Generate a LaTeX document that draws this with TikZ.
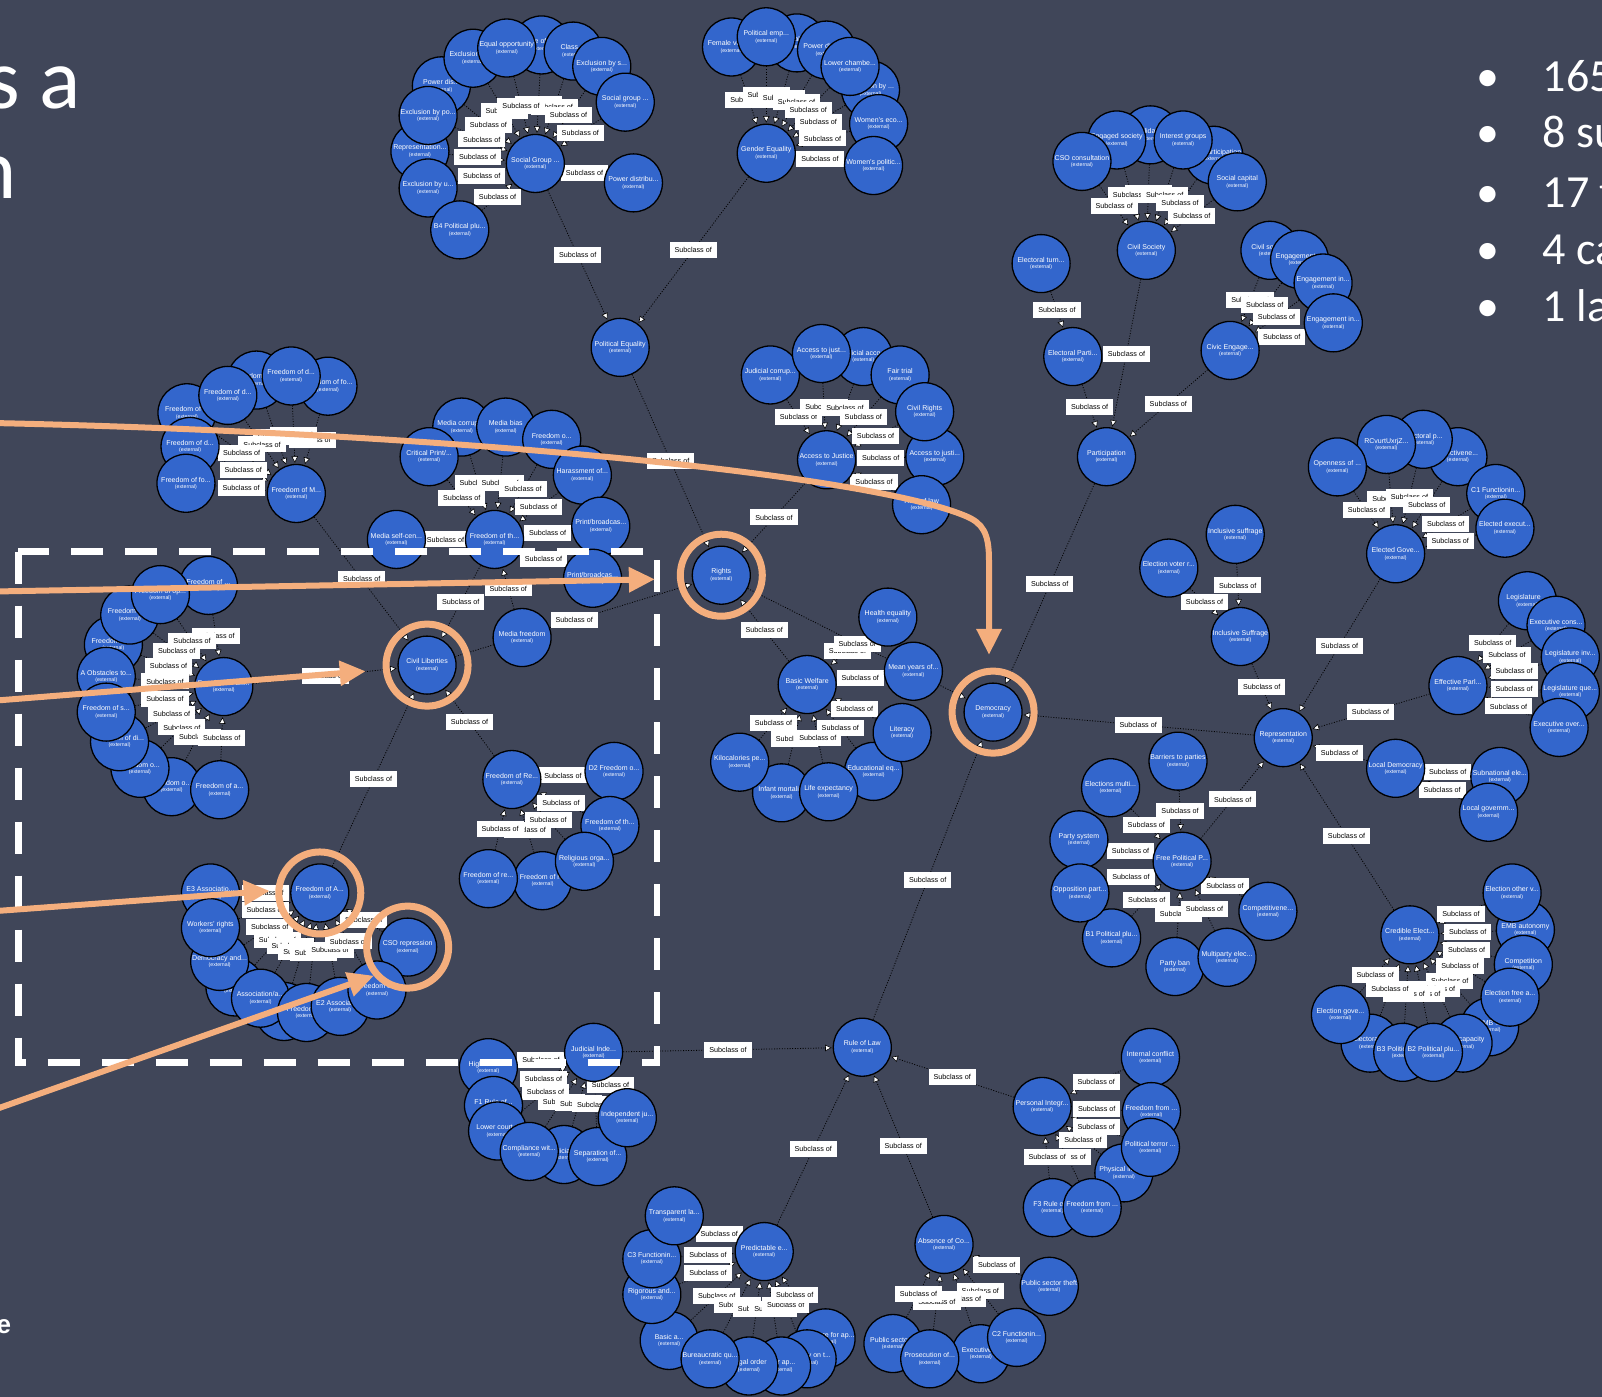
\documentclass[tikz,border=0pt]{standalone}
\usepackage{fontspec}
\setmainfont{Liberation Sans}
\newfontfamily\calfont{Carlito}
\usetikzlibrary{arrows.meta}
\definecolor{bgc}{RGB}{64,70,89}
\definecolor{entblue}{RGB}{51,102,204}
\definecolor{orng}{RGB}{244,174,125}
\pgfdeclarelayer{background}
\pgfdeclarelayer{edges}
\pgfdeclarelayer{labels}
\pgfdeclarelayer{top}
\pgfsetlayers{background,edges,labels,main,top}
\tikzset{
 ent/.style={circle,draw=black,line width=1.3pt,fill=entblue,minimum size=58pt,inner sep=0pt,text=white,align=center,font=\fontsize{7}{8}\selectfont},
 subedge/.style={draw=black,line width=0.8pt,dash pattern=on 1pt off 1.6pt,-{Triangle[length=6.5pt,width=6.5pt,fill=white,line width=0.6pt]},shorten >=1pt},
 sublab/.style={fill=white,text=black,font=\fontsize{7.2}{8}\selectfont,inner xsep=5pt,inner ysep=0pt,minimum height=16pt},
 ring/.style={draw=orng,line width=7pt},
 oarrow/.style={draw=orng,line width=6pt,-{Triangle[length=26pt,width=24pt]}},
 slidetext/.style={text=white,inner sep=0pt,font=\calfont\fontsize{46}{46}\selectfont},
}
\newcommand\Ent[4]{\node[ent] (#1) at (#2,#3) {#4\\[-1.5pt]{\fontsize{5.2}{6}\selectfont (external)}};}
\newcommand\Sub[2]{%
 \begin{pgfonlayer}{edges}\draw[subedge] (#1) -- (#2);\end{pgfonlayer}%
 \begin{pgfonlayer}{labels}\path (#1) -- node[sublab,midway]{Subclass of} (#2);\end{pgfonlayer}}
\begin{document}
\begin{tikzpicture}[x=1.0217pt,y=-1.0217pt]
\useasboundingbox (0,0) rectangle (1568,1367);
\begin{pgfonlayer}{background}
\fill[bgc] (0,0) rectangle (1568,1367);
\end{pgfonlayer}
% ---------- Social Group cluster
\Ent{sg1}{432}{84}{Power dis...}
\Ent{sg2}{463}{57}{Exclusion by ...}
\Ent{sg3}{530}{44}{Rule of law}
\Ent{sg4}{561}{50}{Class ...}
\Ent{sg5}{496}{47}{Equal opportunity}
\Ent{sg6}{589}{65}{Exclusion by s...}
\Ent{sg7}{612}{100}{Social group ...}
\Ent{sg8}{411}{148}{Representation...}
\Ent{sg9}{419}{113}{Exclusion by po...}
\Ent{sg10}{419}{184}{Exclusion by u...}
\Ent{sg11}{450}{225}{B4 Political plu...}
\Ent{sg12}{620}{179}{Power distribu...}
\Ent{SG}{524}{160}{Social Group ...}
% ---------- Gender cluster
\Ent{ge1}{716}{46}{Female voice...}
\Ent{ge3}{780}{42}{Political rep...}
\Ent{ge2}{750}{36}{Political emp...}
\Ent{ge4}{809}{49}{Power distrib...}
\Ent{ge6}{852}{88}{Exclusion by ...}
\Ent{ge5}{832}{65}{Lower chambe...}
\Ent{ge7}{860}{121}{Women's eco...}
\Ent{ge8}{855}{162}{Women's politic...}
\Ent{GE}{750}{150}{Gender Equality}
\Ent{PEQ}{607}{340}{Political Equality}
% ---------- Civil society / participation
\Ent{cs1}{1126}{132}{Solidarity}
\Ent{cs4}{1188}{152}{CSO participation}
\Ent{cs2}{1093}{137}{Engaged society}
\Ent{cs6}{1059}{158}{CSO consultation}
\Ent{cs3}{1158}{137}{Interest groups}
\Ent{cs5}{1211}{178}{Social capital}
\Ent{CS}{1122}{245}{Civil Society}
\Ent{ET}{1019}{258}{Electoral turn...}
\Ent{EP}{1050}{349}{Electoral Parti...}
\Ent{ce1}{1243}{245}{Civil socie...}
\Ent{ce2}{1272}{254}{Engagement ...}
\Ent{ce3}{1295}{277}{Engagement in...}
\Ent{ce4}{1305}{316}{Engagement in...}
\Ent{CE}{1204}{343}{Civic Engage...}
\Ent{PA}{1083}{447}{Participation}
% ---------- Access to justice
\Ent{aj1}{754}{367}{Judicial corrup...}
\Ent{aj3}{845}{349}{Judicial acco...}
\Ent{aj2}{804}{346}{Access to just...}
\Ent{aj4}{881}{367}{Fair trial}
\Ent{aj6}{915}{447}{Access to justi...}
\Ent{aj5}{905}{403}{Civil Rights}
\Ent{aj7}{902}{494}{Rule of law}
\Ent{AJ}{809}{450}{Access to Justice}
\Ent{RI}{706}{563}{Rights}
% ---------- Basic welfare
\Ent{bw1}{869}{604}{Health equality}
\Ent{bw2}{894}{657}{Mean years of...}
\Ent{bw3}{855}{755}{Educational eq...}
\Ent{bw4}{883}{717}{Literacy}
\Ent{bw5}{765}{776}{Infant mortali...}
\Ent{bw6}{724}{746}{Kilocalories pe...}
\Ent{bw7}{811}{775}{Life expectancy}
\Ent{BW}{790}{670}{Basic Welfare}
\Ent{DE}{972}{697}{Democracy}
% ---------- Media
\Ent{mf2}{452}{418}{Media corrupt...}
\Ent{mf1}{420}{447}{Critical Print/...}
\Ent{mf3}{495}{418}{Media bias}
\Ent{mf4}{540}{430}{Freedom o...}
\Ent{mf5}{570}{465}{Harassment of...}
\Ent{mf6}{588}{515}{Print/broadcas...}
\Ent{mf7}{580}{566}{Print/broadcas...}
\Ent{mf9}{388}{528}{Media self-cen...}
\Ent{mf8}{511}{624}{Media freedom}
\Ent{FT}{484}{528}{Freedom of th...}
% ---------- Freedom of M
\Ent{fm1}{251}{372}{Freedom of ...}
\Ent{fm2}{321}{378}{Freedom of fo...}
\Ent{fm3}{285}{368}{Freedom of d...}
\Ent{fm5}{183}{404}{Freedom of ...}
\Ent{fm4}{223}{387}{Freedom of d...}
\Ent{fm6}{186}{437}{Freedom of d...}
\Ent{fm7}{182}{473}{Freedom of fo...}
\Ent{FM}{290}{483}{Freedom of M...}
\Ent{CL}{418}{651}{Civil Liberties}
% ---------- Freedom of Ex
\Ent{fe4}{111}{631}{Freedom of ...}
\Ent{fe3}{127}{602}{Freedom of ...}
\Ent{fe1}{204}{573}{Freedom of ...}
\Ent{fe2}{157}{582}{Freedom of op...}
\Ent{fe5}{104}{662}{A Obstacles to...}
\Ent{fe9}{168}{770}{Freedom o...}
\Ent{fe8}{137}{752}{Freedom o...}
\Ent{fe7}{117}{726}{Freedom of di...}
\Ent{fe6}{104}{697}{Freedom of s...}
\Ent{fe10}{215}{773}{Freedom of a...}
\Ent{FE}{219}{672}{Freedom of Ex...}
% ---------- Freedom of A
\Ent{fa4}{230}{966}{Freedom of ...}
\Ent{fa3}{215}{941}{Democracy and...}
\Ent{fa1}{206}{874}{E3 Associatio...}
\Ent{fa2}{206}{908}{Workers' rights}
\Ent{fa6}{278}{990}{Freedom of ...}
\Ent{fa5}{255}{977}{Association/a...}
\Ent{fa7}{300}{991}{Freedom o...}
\Ent{fa8}{333}{985}{E2 Associatio...}
\Ent{CSO}{399}{927}{CSO repression}
\Ent{fa9}{369}{969}{Freedom o...}
\Ent{FA}{313}{874}{Freedom of A...}
% ---------- Freedom of Re
\Ent{fr1}{601}{755}{D2 Freedom o...}
\Ent{fr2}{597}{808}{Freedom of th...}
\Ent{fr4}{531}{862}{Freedom of r...}
\Ent{fr3}{572}{843}{Religious orga...}
\Ent{fr5}{478}{860}{Freedom of re...}
\Ent{FR}{501}{763}{Freedom of Re...}
% ---------- Judicial independence
\Ent{ji1}{478}{1045}{High Court...}
\Ent{ji2}{483}{1082}{F1 Rule of...}
\Ent{ji3}{487}{1107}{Lower court...}
\Ent{ji5}{552}{1130}{Judicial ...}
\Ent{ji4}{518}{1127}{Compliance wit...}
\Ent{ji6}{585}{1132}{Separation of...}
\Ent{ji7}{614}{1094}{Independent ju...}
\Ent{JI}{581}{1030}{Judicial Inde...}
\Ent{RL}{844}{1025}{Rule of Law}
% ---------- Personal integrity
\Ent{pi1}{1126}{1035}{Internal conflict}
\Ent{pi2}{1127}{1088}{Freedom from ...}
\Ent{pi4}{1100}{1148}{Physical integ...}
\Ent{pi3}{1126}{1123}{Political terror ...}
\Ent{pi6}{1030}{1182}{F3 Rule of...}
\Ent{pi5}{1069}{1182}{Freedom from ...}
\Ent{PI}{1020}{1083}{Personal Integr...}
% ---------- Absence of corruption
\Ent{ac1}{1027}{1259}{Public sector theft}
\Ent{ac5}{874}{1315}{Public sector...}
\Ent{ac3}{960}{1325}{Executive ...}
\Ent{ac4}{910}{1330}{Prosecution of...}
\Ent{ac2}{995}{1309}{C2 Functionin...}
\Ent{AC}{924}{1218}{Absence of Co...}
% ---------- Predictable enforcement
\Ent{pr9}{808}{1310}{Procedure for ap...}
\Ent{pr8}{790}{1330}{Certainty on t...}
\Ent{pr7}{765}{1337}{Fair ap...}
\Ent{pr6}{733}{1337}{Legal order}
\Ent{pr4}{655}{1312}{Basic a...}
\Ent{pr5}{695}{1330}{Bureaucratic qu...}
\Ent{pr3}{638}{1267}{Rigorous and...}
\Ent{pr2}{638}{1232}{C3 Functionin...}
\Ent{pr1}{660}{1190}{Transparent la...}
\Ent{PR}{748}{1225}{Predictable e...}
% ---------- Representation side
\Ent{is1}{1209}{523}{Inclusive suffrage}
\Ent{is2}{1144}{556}{Election voter r...}
\Ent{IS}{1214}{623}{Inclusive Suffrage}
\Ent{eg4}{1427}{447}{Effectivene...}
\Ent{eg3}{1393}{430}{Electoral p...}
\Ent{eg2}{1357}{435}{RCvurtUxrjZ...}
\Ent{eg1}{1309}{457}{Openness of ...}
\Ent{eg5}{1464}{483}{C1 Functionin...}
\Ent{eg6}{1473}{517}{Elected execut...}
\Ent{EG}{1366}{542}{Elected Gove...}
\Ent{ef1}{1495}{588}{Legislature ...}
\Ent{ef2}{1523}{612}{Executive cons...}
\Ent{ef3}{1537}{643}{Legislature inv...}
\Ent{ef4}{1537}{677}{Legislature que...}
\Ent{ef5}{1526}{712}{Executive over...}
\Ent{EF}{1427}{671}{Effective Parl...}
\Ent{ld1}{1468}{760}{Subnational ele...}
\Ent{ld2}{1457}{795}{Local governm...}
\Ent{LD}{1366}{752}{Local Democracy}
\Ent{cr2}{1493}{910}{EMB autonomy}
\Ent{cr1}{1480}{874}{Election other v...}
\Ent{cr3}{1491}{944}{Competition}
\Ent{cr5}{1458}{1005}{EMB ...}
\Ent{cr4}{1478}{976}{Election free a...}
\Ent{cr6}{1432}{1021}{EMB capacity}
\Ent{cr9}{1341}{1021}{Electoral ...}
\Ent{cr8}{1373}{1030}{B3 Political plu...}
\Ent{cr7}{1403}{1030}{B2 Political plu...}
\Ent{cr10}{1312}{993}{Election gove...}
\Ent{CR}{1380}{915}{Credible Elect...}
\Ent{fp1}{1153}{745}{Barriers to parties}
\Ent{fp2}{1087}{771}{Elections multi...}
\Ent{fp3}{1056}{822}{Party system}
\Ent{fp5}{1088}{918}{B1 Political plu...}
\Ent{fp4}{1057}{874}{Opposition part...}
\Ent{fp6}{1150}{946}{Party ban}
\Ent{fp7}{1201}{937}{Multiparty elec...}
\Ent{fp8}{1241}{892}{Competitivene...}
\Ent{FP}{1157}{843}{Free Political P...}
\Ent{REP}{1256}{722}{Representation}
% ================= connectors
\foreach \n in {sg1,sg2,sg3,sg4,sg5,sg6,sg7,sg8,sg9,sg10,sg11,sg12}{\Sub{\n}{SG}}
\foreach \n in {ge1,ge2,ge3,ge4,ge5,ge6,ge7,ge8}{\Sub{\n}{GE}}
\Sub{SG}{PEQ}\Sub{GE}{PEQ}\Sub{PEQ}{RI}
\foreach \n in {cs1,cs2,cs3,cs4,cs5,cs6}{\Sub{\n}{CS}}
\Sub{CS}{PA}\Sub{ET}{EP}\Sub{EP}{PA}
\foreach \n in {ce1,ce2,ce3,ce4}{\Sub{\n}{CE}}
\Sub{CE}{PA}\Sub{PA}{DE}
\foreach \n in {aj1,aj2,aj3,aj4,aj5,aj6,aj7}{\Sub{\n}{AJ}}
\Sub{AJ}{RI}
\foreach \n in {bw1,bw2,bw3,bw4,bw5,bw6,bw7}{\Sub{\n}{BW}}
\Sub{BW}{RI}\Sub{RI}{DE}\Sub{CL}{RI}
\foreach \n in {mf1,mf2,mf3,mf4,mf5,mf6,mf7,mf8,mf9}{\Sub{\n}{FT}}
\Sub{FT}{CL}
\foreach \n in {fm1,fm2,fm3,fm4,fm5,fm6,fm7}{\Sub{\n}{FM}}
\Sub{FM}{CL}
\foreach \n in {fe1,fe2,fe3,fe4,fe5,fe6,fe7,fe8,fe9,fe10}{\Sub{\n}{FE}}
\Sub{FE}{CL}
\foreach \n in {fa1,fa2,fa3,fa4,fa5,fa6,fa7,fa8,fa9,CSO}{\Sub{\n}{FA}}
\Sub{FA}{CL}
\foreach \n in {fr1,fr2,fr3,fr4,fr5}{\Sub{\n}{FR}}
\Sub{FR}{CL}
\foreach \n in {ji1,ji2,ji3,ji4,ji5,ji6,ji7}{\Sub{\n}{JI}}
\Sub{JI}{RL}
\foreach \n in {pi1,pi2,pi3,pi4,pi5,pi6}{\Sub{\n}{PI}}
\Sub{PI}{RL}
\foreach \n in {ac1,ac2,ac3,ac4,ac5}{\Sub{\n}{AC}}
\Sub{AC}{RL}
\foreach \n in {pr1,pr2,pr3,pr4,pr5,pr6,pr7,pr8,pr9}{\Sub{\n}{PR}}
\Sub{PR}{RL}\Sub{RL}{DE}
\foreach \n in {is1,is2}{\Sub{\n}{IS}}
\Sub{IS}{REP}
\foreach \n in {eg1,eg2,eg3,eg4,eg5,eg6}{\Sub{\n}{EG}}
\Sub{EG}{REP}
\foreach \n in {ef1,ef2,ef3,ef4,ef5}{\Sub{\n}{EF}}
\Sub{EF}{REP}
\foreach \n in {ld1,ld2}{\Sub{\n}{LD}}
\Sub{LD}{REP}
\foreach \n in {cr1,cr2,cr3,cr4,cr5,cr6,cr7,cr8,cr9,cr10}{\Sub{\n}{CR}}
\Sub{CR}{REP}
\foreach \n in {fp1,fp2,fp3,fp4,fp5,fp6,fp7,fp8}{\Sub{\n}{FP}}
\Sub{FP}{REP}\Sub{REP}{DE}
% ================= slide overlay
\begin{pgfonlayer}{top}
\draw[white,line width=6.5pt,dash pattern=on 32pt off 22pt] (18,540) rectangle (643,1040);
\foreach \h in {RI,DE,CL,FA,CSO}{\draw[ring] (\h) circle[radius=41pt];}
\coordinate (a1s) at (-8,414);
\coordinate (a1e) at (968,641);
\coordinate (a2s) at (-8,579);
\coordinate (a2e) at (641,567);
\coordinate (a3s) at (-8,686);
\coordinate (a3e) at (358,657);
\coordinate (a4s) at (-8,892);
\coordinate (a4e) at (264,872);
\coordinate (a5s) at (-8,1087);
\coordinate (a5e) at (366,955);
\draw[oarrow] (a1s) .. controls (450,424) and (850,465) .. (945,505) .. controls (962,512) and (968,522) .. (968,548) -- (a1e);
\draw[oarrow] (a2s) -- (a2e);
\draw[oarrow] (a3s) -- (a3e);
\draw[oarrow] (a4s) -- (a4e);
\draw[oarrow] (a5s) -- (a5e);
\begin{scope}
\clip (0,0) rectangle (1568,1367);
\node[text=white,inner sep=0pt,anchor=base east,font=\calfont\fontsize{86}{86}\selectfont] (ttl1) at (79,106) {s a};
\node[text=white,inner sep=0pt,anchor=base east,font=\calfont\fontsize{86}{86}\selectfont] (ttl2) at (17,194) {n};
\node[text=white,inner sep=0pt,anchor=base east,font=\bfseries\fontsize{26}{26}\selectfont] (ttl3) at (11,1305) {e};
\node[slidetext,anchor=base] (b1) at (1456,90) {•};
\node[slidetext,anchor=base] (b2) at (1456,144) {•};
\node[slidetext,anchor=base] (b3) at (1456,203) {•};
\node[slidetext,anchor=base] (b4) at (1456,259) {•};
\node[slidetext,anchor=base] (b5) at (1456,315) {•};
\node[slidetext,anchor=base west] (l1) at (1510,90) {165};
\node[slidetext,anchor=base west] (l2) at (1510,144) {8 su};
\node[slidetext,anchor=base west] (l3) at (1510,203) {17 t};
\node[slidetext,anchor=base west] (l4) at (1510,259) {4 ca};
\node[slidetext,anchor=base west] (l5) at (1510,315) {1 la};
\end{scope}
\end{pgfonlayer}
\end{tikzpicture}
\end{document}
